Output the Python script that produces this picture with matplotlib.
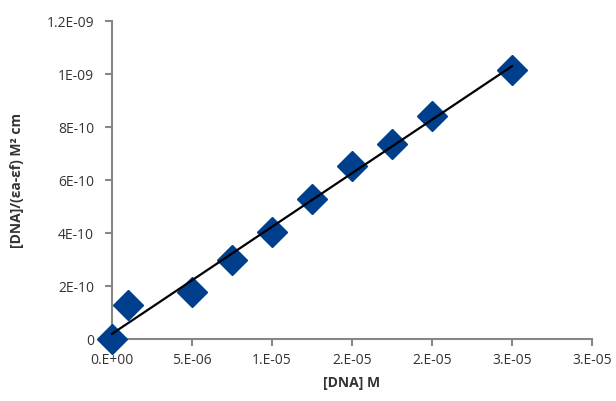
import numpy as np
import matplotlib.pyplot as plt

dna = [0.0, 1.0e-6, 5.0e-6, 7.5e-6, 1.0e-5, 1.25e-5, 1.5e-5, 1.75e-5, 2.0e-5, 2.5e-5]
ratio = [0.0, 1.28e-10, 1.77e-10, 2.98e-10, 4.04e-10, 5.28e-10, 6.53e-10, 7.35e-10, 8.42e-10, 1.015e-09]

x_ticks = [0.0, 5e-6, 1e-5, 1.5e-5, 2e-5, 2.5e-5, 3e-5]
x_labels = ["0.E+00", "5.E-06", "1.E-05", "2.E-05", "2.E-05", "3.E-05", "3.E-05"]
y_ticks = [0.0, 2e-10, 4e-10, 6e-10, 8e-10, 1e-9, 1.2e-9]
y_labels = ["0", "2E-10", "4E-10", "6E-10", "8E-10", "1E-09", "1.2E-09"]


def main():
    plt.rcParams["font.family"] = ["Open Sans", "DejaVu Sans"]
    fig = plt.figure(figsize=(6.16, 4.01), dpi=100)
    ax = fig.add_axes([0.1818, 0.1546, 0.7792, 0.793])

    ax.plot(dna, ratio, linestyle="none", marker="D", markersize=15,
            color="#003f8c", zorder=2, clip_on=False)

    slope, intercept = np.polyfit(dna, ratio, 1)
    xs = np.array([dna[0], dna[-1]])
    ax.plot(xs, slope * xs + intercept, color="black", linewidth=1.6,
            zorder=3, clip_on=False)

    ax.set_xlim(0, 3e-5)
    ax.set_ylim(0, 1.2e-9)
    ax.set_xticks(x_ticks, x_labels)
    ax.set_yticks(y_ticks, y_labels)
    ax.tick_params(colors="#878787", labelcolor="#333333", labelsize=10,
                   length=5, width=1.5)
    ax.tick_params(axis="y", pad=8)
    ax.tick_params(axis="x", pad=5)
    for side in ("top", "right"):
        ax.spines[side].set_visible(False)
    for side in ("left", "bottom"):
        ax.spines[side].set_color("#878787")
        ax.spines[side].set_linewidth(1.5)
        ax.spines[side].set_zorder(1)

    ax.set_xlabel("[DNA] M", fontsize=10, fontweight="bold", color="#333333",
                  labelpad=6)
    ax.set_ylabel("[DNA]/(εa-εf) M² cm", fontsize=10, fontweight="bold",
                  color="#333333", labelpad=16)

    fig.savefig("out.png", dpi=100)


if __name__ == "__main__":
    main()
